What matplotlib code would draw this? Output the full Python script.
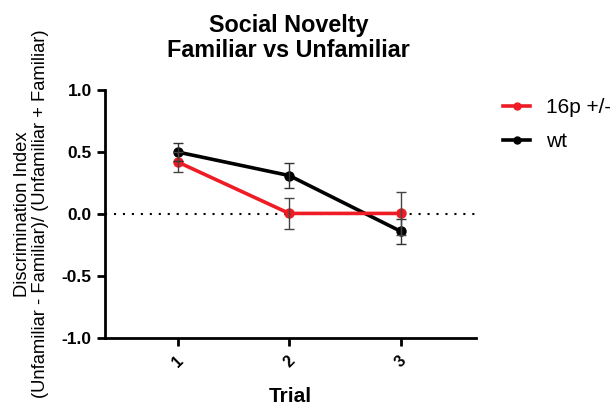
import matplotlib
matplotlib.use("Agg")
import matplotlib.pyplot as plt
from matplotlib.lines import Line2D

plt.rcParams['font.family'] = ['Liberation Sans', 'DejaVu Sans']

trials = [1, 2, 3]
trial_labels = ["1", "2", "3"]
wt_mean = [0.50, 0.31, -0.14]
wt_sem = [0.07, 0.10, 0.10]
het_mean = [0.42, 0.005, 0.005]
het_sem = [0.08, 0.125, 0.17]
series_names = ["16p +/-", "wt"]

fig = plt.figure(figsize=(6.1, 4.05), dpi=100)
ax = fig.add_axes([0.172, 0.165, 0.608, 0.613])

ax.axhline(0, color='black', linestyle=(0, (1, 3.3)), linewidth=1.5, zorder=1)

ax.plot(trials, wt_mean, color='black', linewidth=2.6, marker='o', markersize=6.5, zorder=3)
ax.errorbar(trials, wt_mean, yerr=wt_sem, fmt='none', ecolor='#333333', elinewidth=1, capsize=3.5, capthick=1, zorder=5)
ax.plot(trials, het_mean, color='#ee1c25', linewidth=2.6, marker='o', markersize=6.5, zorder=4)
ax.errorbar(trials, het_mean, yerr=het_sem, fmt='none', ecolor='#444444', elinewidth=1, capsize=3.5, capthick=1, zorder=5)

ax.set_xlim(0.35, 3.67)
ax.set_ylim(-1.0, 1.0)
ax.set_yticks([-1.0, -0.5, 0.0, 0.5, 1.0])
ax.set_yticklabels(["-1.0", "-0.5", "0.0", "0.5", "1.0"], fontsize=12.5, fontweight='bold')
ax.set_xticks(trials)
ax.set_xticklabels(trial_labels, rotation=45, fontsize=11.5, fontweight='bold')

for s in ['top', 'right']:
    ax.spines[s].set_visible(False)
for s in ['left', 'bottom']:
    ax.spines[s].set_linewidth(2)
ax.tick_params(width=2, length=6, direction='out')
ax.tick_params(axis='x', pad=5)

ax.set_xlabel("Trial", fontsize=15, fontweight='bold', labelpad=12)
ax.set_ylabel("Discrimination Index\n(Unfamiliar - Familiar)/ (Unfamiliar + Familiar)",
              fontsize=13.2, linespacing=1.08)
ax.yaxis.set_label_coords(-0.150, 0.5)

fig.text(0.473, 1 - 57 / 405, "Social Novelty\nFamiliar vs Unfamiliar", ha='center', va='baseline',
         fontsize=16.8, fontweight='bold', linespacing=1.1)

handles = [Line2D([], [], color='#ee1c25', linewidth=2.6, marker='o', markersize=5),
           Line2D([], [], color='black', linewidth=2.6, marker='o', markersize=5)]
fig.legend(handles, series_names, loc='upper left', bbox_to_anchor=(0.825, 0.757),
           frameon=False, fontsize=15, handlelength=1.3, handletextpad=0.75,
           labelspacing=0.72, borderpad=0, borderaxespad=0)

fig.savefig("out.png", dpi=100)
